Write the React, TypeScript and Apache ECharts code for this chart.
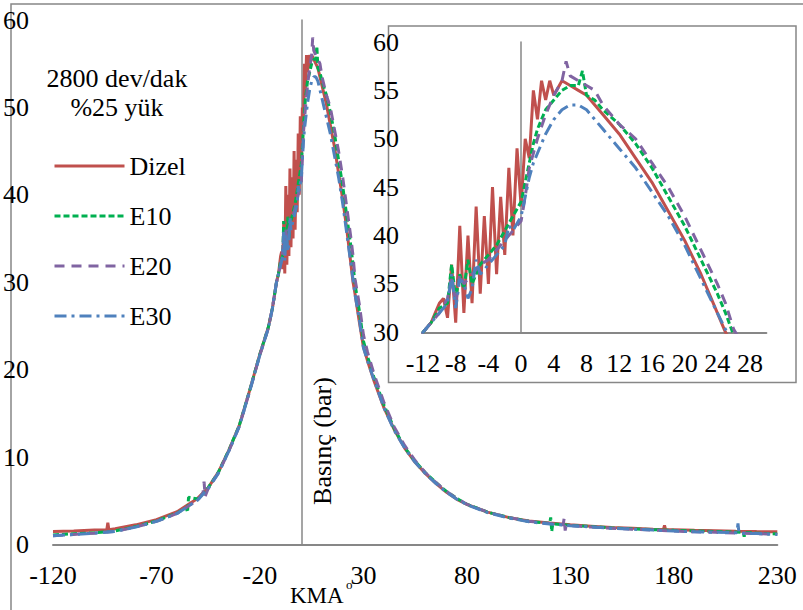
import { useEffect, useRef } from 'react';
import * as echarts from 'echarts';

// ---- Data (crank angle KMA °, pressure bar) ----
const seriesNames = ['Dizel', 'E10', 'E20', 'E30'];
const seriesColors = ['#C0504D', '#00B050', '#8064A2', '#4F81BD'];

const dizel: [number, number][] = [
  [-120, 1.5], [-110, 1.55], [-100, 1.65], [-94, 1.7], [-93.5, 2.5], [-93, 1.7], [-90, 1.8],
  [-80, 2.25], [-70, 2.85], [-60, 3.75], [-50, 5.3], [-45, 6.5], [-40, 8.3], [-35, 10.8],
  [-30, 13.6], [-25, 17.6], [-20, 21.8], [-16, 24.8], [-14, 27], [-12, 30], [-11, 31],
  [-10.5, 32], [-10, 33], [-9.5, 33.5], [-9, 31.5], [-8.5, 37], [-8, 31], [-7.5, 41],
  [-7, 32], [-6.5, 40], [-6, 33], [-5.5, 43], [-5, 34], [-4.5, 42], [-4, 35], [-3.5, 45],
  [-3, 36], [-2.5, 44], [-2, 38], [-1.5, 47], [-1, 40], [-0.5, 49], [0, 43], [0.5, 50],
  [1, 48], [1.5, 55], [2, 52], [2.5, 56], [3, 54], [3.5, 56], [4, 54.5], [5, 56], [6, 55.5],
  [7, 55], [8, 54.5], [10, 52.5], [12, 50.5], [14, 48], [16, 45.5], [18, 42.5], [20, 39.5],
  [22, 36], [24, 32], [25, 30], [26, 28.6], [28, 25.5], [30, 22.6], [32, 21], [35, 18.8],
  [40, 15.6], [45, 13.1], [50, 11], [55, 9.4], [60, 8.1], [65, 7], [70, 6], [75, 5.2],
  [80, 4.6], [90, 3.7], [100, 3.1], [110, 2.7], [120, 2.45], [130, 2.25], [140, 2.1],
  [150, 1.95], [160, 1.85], [170, 1.75], [175, 1.72], [175.5, 2.2], [176, 1.7], [180, 1.68],
  [190, 1.62], [200, 1.58], [210, 1.52], [220, 1.48], [230, 1.45],
];

const e10: [number, number][] = [
  [-120, 1.1], [-100, 1.35], [-90, 1.55], [-80, 2.05], [-70, 2.7], [-60, 3.6], [-55.5, 4.2],
  [-55, 3.7], [-54.5, 5.4], [-50, 5.2], [-45, 6.5], [-40, 8.3], [-35, 10.8], [-30, 13.6],
  [-25, 17.6], [-20, 21.8], [-16, 24.8], [-14, 27], [-12, 30], [-11, 31], [-10, 32.5],
  [-9, 33], [-8.5, 37], [-8, 33.5], [-7.5, 36], [-7, 34.5], [-6.5, 37.5], [-6, 35], [-5, 37],
  [-4, 38], [-3, 39], [-2, 40.5], [-1, 42], [0, 43.5], [0.5, 45.5], [1, 47.5], [1.5, 49.5],
  [2, 51], [3, 53], [4, 54], [5, 55], [6, 55.5], [7, 55.5], [7.5, 57], [8, 54.5], [9, 54],
  [10, 53], [12, 51.5], [14, 49.5], [16, 47], [18, 44], [20, 41], [22, 37.5], [24, 34],
  [25, 32], [26, 29.7], [28, 26.8], [30, 23.3], [32, 21.5], [35, 19.2], [40, 15.9],
  [45, 13.2], [50, 11.1], [55, 9.5], [60, 8.2], [65, 7.1], [70, 6.1], [75, 5.3], [80, 4.6],
  [90, 3.7], [100, 3.1], [110, 2.65], [120, 2.4], [120.5, 3.1], [121, 1.5], [121.5, 2.35],
  [130, 2.2], [140, 2.05], [150, 1.9], [160, 1.8], [170, 1.7], [180, 1.62], [190, 1.55],
  [200, 1.48], [210, 1.42], [213.5, 1.4], [214, 0.9], [214.5, 1.38], [220, 1.3], [230, 1.2],
];

const e20: [number, number][] = [
  [-120, 1.0], [-100, 1.3], [-90, 1.5], [-80, 2.0], [-70, 2.65], [-60, 3.55], [-50, 5.1],
  [-47.5, 5.9], [-47, 7.2], [-46.5, 5.5], [-45, 6.4], [-40, 8.2], [-35, 10.7], [-30, 13.5],
  [-25, 17.5], [-20, 21.7], [-16, 24.7], [-14, 27], [-12, 30], [-10, 32], [-9, 33.5],
  [-8.5, 35.5], [-8, 33], [-7.5, 36], [-7, 35], [-6, 36], [-5, 37], [-4, 37.5], [-3, 38.5],
  [-2, 39.5], [-1, 40.5], [0, 41.5], [0.5, 44], [1, 47], [2, 50], [3, 52.5], [4, 54.5],
  [5, 56], [5.5, 58], [6, 56.5], [7, 56], [8, 55.5], [9, 55], [10, 53.5], [12, 51.5],
  [14, 50], [16, 47.5], [18, 45], [20, 42], [22, 38.5], [24, 35], [25, 33], [26, 30.3],
  [28, 27.5], [30, 24], [32, 22], [35, 19.6], [40, 16.2], [45, 13.4], [50, 11.3], [55, 9.6],
  [60, 8.2], [65, 7.1], [70, 6.1], [75, 5.3], [80, 4.6], [90, 3.7], [100, 3.1], [110, 2.65],
  [120, 2.4], [126.5, 2.25], [127, 3.0], [127.5, 1.6], [128, 2.2], [130, 2.15], [140, 2.0],
  [150, 1.85], [160, 1.75], [170, 1.65], [180, 1.55], [190, 1.45], [200, 1.4], [210, 1.3],
  [220, 1.25], [230, 1.15],
];

const e30: [number, number][] = [
  [-120, 1.0], [-100, 1.3], [-90, 1.5], [-80, 2.0], [-70, 2.65], [-60, 3.55], [-50, 5.1],
  [-45, 6.4], [-40, 8.2], [-35, 10.7], [-30, 13.5], [-25, 17.5], [-20, 21.7], [-16, 24.7],
  [-14, 27], [-12, 30], [-10, 32], [-9, 33], [-8.5, 36], [-8, 32.5], [-7.5, 35.5], [-7, 35],
  [-6.5, 33.5], [-6, 34.5], [-5.5, 37.5], [-5, 36], [-4, 37], [-3, 38], [-2, 39], [-1.5, 41],
  [-1, 40.5], [0, 42], [0.5, 44], [1, 46], [1.5, 47.5], [2, 48.5], [3, 50.5], [4, 52],
  [5, 53], [6, 53.5], [7, 53.5], [8, 53], [9, 52], [10, 51], [12, 49], [14, 47], [16, 44.5],
  [18, 42], [20, 39], [22, 35.5], [24, 32], [25, 30.3], [26, 28.5], [28, 25.8], [30, 22.5],
  [32, 21], [35, 18.9], [40, 15.6], [45, 13], [50, 11], [55, 9.4], [60, 8.1], [65, 7.0],
  [70, 6.0], [75, 5.2], [80, 4.55], [90, 3.65], [100, 3.05], [110, 2.6], [120, 2.35],
  [130, 2.15], [140, 2.0], [150, 1.85], [160, 1.75], [170, 1.65], [180, 1.55], [190, 1.45],
  [200, 1.4], [210.5, 1.35], [211, 2.4], [211.5, 1.3], [220, 1.25], [230, 1.15],
];

const seriesData = [dizel, e10, e20, e30];

const mainXTicks = [-120, -70, -20, 30, 80, 130, 180, 230];
const insetXTicks = [-12, -8, -4, 0, 4, 8, 12, 16, 20, 24, 28];

const chartTitle = '2800 dev/dak\n%25 yük';
const yTitle = 'Basınç (bar)';
const xTitle = 'KMA';

// ---- Styles ----
const FONT = 'Liberation Serif';
const GRAY = '#878787';
const dashes: any[] = ['solid', [6, 3], [10, 7], [12, 5, 3, 5]];
const forceSerifCss =
  '.kma-chart svg text, .kma-chart svg tspan { font-family: "Liberation Serif", "Times New Roman", serif !important; }';

function buildOption() {
  const series: any[] = [];
  [0, 1].forEach((g) => {
    seriesNames.forEach((name, i) => {
      series.push({
        type: 'line',
        name,
        data: seriesData[i],
        xAxisIndex: g,
        yAxisIndex: g,
        symbol: 'none',
        color: seriesColors[i],
        lineStyle: { color: seriesColors[i], width: 3, type: dashes[i] },
        z: 2 + i,
      });
    });
  });

  const labelStyle = { fontFamily: FONT, fontSize: 26, color: '#000' };

  return {
    animation: false,
    title: {
      text: chartTitle,
      left: 117,
      top: 64,
      padding: 0,
      textAlign: 'center',
      textStyle: { fontFamily: FONT, fontSize: 26, fontWeight: 'normal', color: '#000', lineHeight: 29 },
    },
    legend: {
      data: seriesNames,
      orient: 'vertical',
      left: 53,
      top: 151,
      padding: 0,
      itemWidth: 70,
      itemHeight: 14,
      itemGap: 20,
      selectedMode: false,
      itemStyle: { opacity: 0 },
      lineStyle: { width: 3 },
      textStyle: { fontFamily: FONT, fontSize: 26, color: '#000', lineHeight: 30 },
    },
    grid: [
      { left: 51.7, right: 25.7, top: 20, bottom: 65.5 },
      { left: 423, right: 36.6, top: 42, bottom: 277.7 },
    ],
    xAxis: [
      {
        type: 'value', gridIndex: 0, min: -120, max: 230,
        splitLine: { show: false }, axisTick: { show: false },
        axisLine: { show: true, onZero: true, lineStyle: { color: GRAY, width: 2 } },
        axisLabel: { ...labelStyle, margin: 18, customValues: mainXTicks },
      },
      {
        type: 'value', gridIndex: 1, min: -12, max: 30,
        splitLine: { show: false }, axisTick: { show: false },
        axisLine: { show: true, lineStyle: { color: GRAY, width: 2 } },
        axisLabel: { ...labelStyle, margin: 18, customValues: insetXTicks },
      },
    ],
    yAxis: [
      {
        type: 'value', gridIndex: 0, min: 0, max: 60, interval: 10,
        splitLine: { show: false }, axisTick: { show: false },
        axisLine: { show: true, onZero: true, lineStyle: { color: GRAY, width: 1.5 } },
        axisLabel: { ...labelStyle, margin: 24 },
      },
      {
        type: 'value', gridIndex: 1, min: 30, max: 60, interval: 5,
        splitLine: { show: false }, axisTick: { show: false },
        axisLine: { show: true, onZero: true, lineStyle: { color: GRAY, width: 1.5 } },
        axisLabel: { ...labelStyle, margin: 24 },
      },
    ],
    graphic: [
      {
        type: 'rect', silent: true, z: 0,
        shape: { x: 11, y: 4, width: 850, height: 700 },
        style: { fill: 'none', stroke: GRAY, lineWidth: 1.5 },
      },
      {
        type: 'rect', silent: true, z: 0,
        shape: { x: 388.5, y: 26, width: 407.5, height: 356.5 },
        style: { fill: 'none', stroke: GRAY, lineWidth: 1.5 },
      },
      {
        type: 'text', x: 322, y: 441, rotation: Math.PI / 2,
        style: { text: yTitle, fontFamily: FONT, fontSize: 26, fill: '#000', align: 'center', verticalAlign: 'middle' },
      },
      {
        type: 'text', x: 290, y: 595,
        style: { text: xTitle, fontFamily: FONT, fontSize: 23, fill: '#000', align: 'left', verticalAlign: 'middle' },
      },
      {
        type: 'text', x: 346, y: 584,
        style: { text: 'o', fontFamily: FONT, fontSize: 13, fill: '#000', align: 'left', verticalAlign: 'middle' },
      },
    ],
    series,
  };
}

export default function App() {
  const ref = useRef<HTMLDivElement>(null);
  useEffect(() => {
    if (!ref.current) return;
    const chart = echarts.init(ref.current, null, { renderer: 'svg' });
    chart.setOption(buildOption() as any);
    return () => chart.dispose();
  }, []);
  return (
    <>
      <style>{forceSerifCss}</style>
      <div
        ref={ref}
        className="kma-chart"
        style={{ position: 'absolute', left: 0, top: 0, width: 803, height: 610 }}
      />
    </>
  );
}
